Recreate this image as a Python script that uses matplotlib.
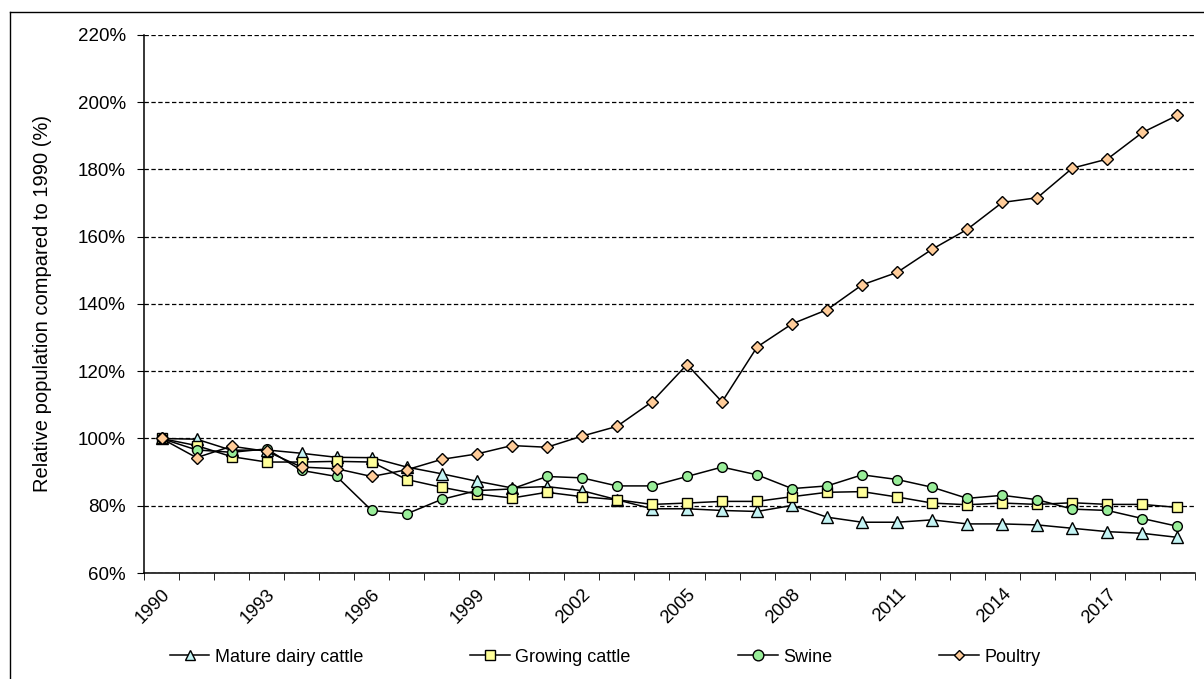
import numpy as np
import matplotlib
matplotlib.use('Agg')
from matplotlib import pyplot as plt
from matplotlib.lines import Line2D

plt.rcParams['font.family'] = ['Liberation Sans', 'DejaVu Sans']

years = list(range(1990, 2020))
dairy = [100, 99.8, 96.5, 96.6, 95.6, 94.4, 94.3, 91.5, 89.5, 87.3,
         85.3, 85.7, 84.5, 81.8, 79.1, 79.1, 78.6, 78.3, 80.1, 76.6,
         75.1, 75.1, 75.8, 74.6, 74.6, 74.3, 73.3, 72.3, 71.8, 70.6]
growing = [100, 97.9, 94.6, 93.0, 93.0, 93.2, 93.0, 87.8, 85.5, 83.5,
           82.3, 84.0, 82.7, 81.8, 80.4, 80.8, 81.3, 81.3, 82.7, 84.0,
           84.2, 82.6, 80.8, 80.3, 80.8, 80.4, 80.9, 80.4, 80.4, 79.5]
swine = [100, 96.6, 95.9, 96.9, 90.5, 88.7, 78.6, 77.6, 81.9, 84.5,
         85.0, 88.7, 88.3, 85.9, 85.9, 88.7, 91.5, 89.2, 85.1, 85.9,
         89.2, 87.8, 85.5, 82.2, 83.1, 81.8, 79.0, 78.6, 76.2, 73.9]
poultry = [100, 94.3, 97.7, 96.2, 91.5, 91.0, 88.7, 90.7, 93.8, 95.4,
           97.9, 97.4, 100.7, 103.6, 110.9, 122.0, 110.9, 127.2, 134.1, 138.3,
           145.7, 149.4, 156.3, 162.2, 170.2, 171.6, 180.4, 183.1, 191.0, 196.1]

labels = ['Mature dairy cattle', 'Growing cattle', 'Swine', 'Poultry']
markers = ['^', 's', 'o', 'D']
colors = ['#C4F4F4', '#FFFF99', '#99EE99', '#FFCC99']
sizes = [9, 7.5, 7, 6]
leg_sizes = [6.5, 6.5, 7.7, 4.8]

fig = plt.figure(figsize=(12.04, 6.79), dpi=100)
ax = fig.add_axes([0.1196, 0.1561, 0.8729, 0.7924])

x = np.arange(len(years))
for vals, lab, m, c, s in zip([dairy, growing, swine, poultry], labels, markers, colors, sizes):
    ax.plot(x, vals, color='black', lw=1.1, marker=m, markersize=s,
            markerfacecolor=c, markeredgecolor='black', markeredgewidth=1.0,
            label=lab, zorder=3)

ax.set_xlim(-0.5, len(years) - 0.5)
ax.set_ylim(60, 220)
ax.set_yticks(np.arange(60, 221, 20))
ax.set_yticklabels(['%d%%' % v for v in range(60, 221, 20)], fontsize=13.5)
ax.yaxis.grid(True, linestyle=(0, (3.5, 2)), color='black', lw=0.9)
ax.set_axisbelow(True)

ax.set_xticks(x[::3])
ax.set_xticklabels([str(y) for y in years[::3]], rotation=45, ha='right',
                   rotation_mode='anchor', fontsize=13.2)
ax.tick_params(axis='x', which='major', length=0, pad=9)
ax.set_xticks(np.arange(-0.5, len(years), 1), minor=True)
ax.tick_params(axis='x', which='minor', length=5, direction='out', color='black')
ax.tick_params(axis='y', length=5, direction='out', color='black', pad=8)

for s in ['top', 'right']:
    ax.spines[s].set_visible(False)
for s in ['left', 'bottom']:
    ax.spines[s].set_color('black')
    ax.spines[s].set_linewidth(1.1)

ax.set_ylabel('Relative population compared to 1990 (%)', fontsize=14.5)
ax.yaxis.set_label_coords(-0.088, 0.5)

handles = [Line2D([0], [0], color='black', lw=1.1, marker=m, markersize=s,
                  markerfacecolor=c, markeredgecolor='black')
           for m, c, s in zip(markers, colors, leg_sizes)]
fig.legend(handles, labels, loc='center left', bbox_to_anchor=(0.141, 0.032),
           ncol=4, frameon=False, fontsize=13, handlelength=2.2,
           handletextpad=0.28, columnspacing=5.95, borderpad=0, borderaxespad=0)

# chart area border (left and top visible)
fig.add_artist(Line2D([10 / 1204, 10 / 1204], [0, 1 - 12 / 679],
                      transform=fig.transFigure, color='black', lw=1))
fig.add_artist(Line2D([10 / 1204, 1], [1 - 12 / 679, 1 - 12 / 679],
                      transform=fig.transFigure, color='black', lw=1))

fig.savefig('out.png', dpi=100)
